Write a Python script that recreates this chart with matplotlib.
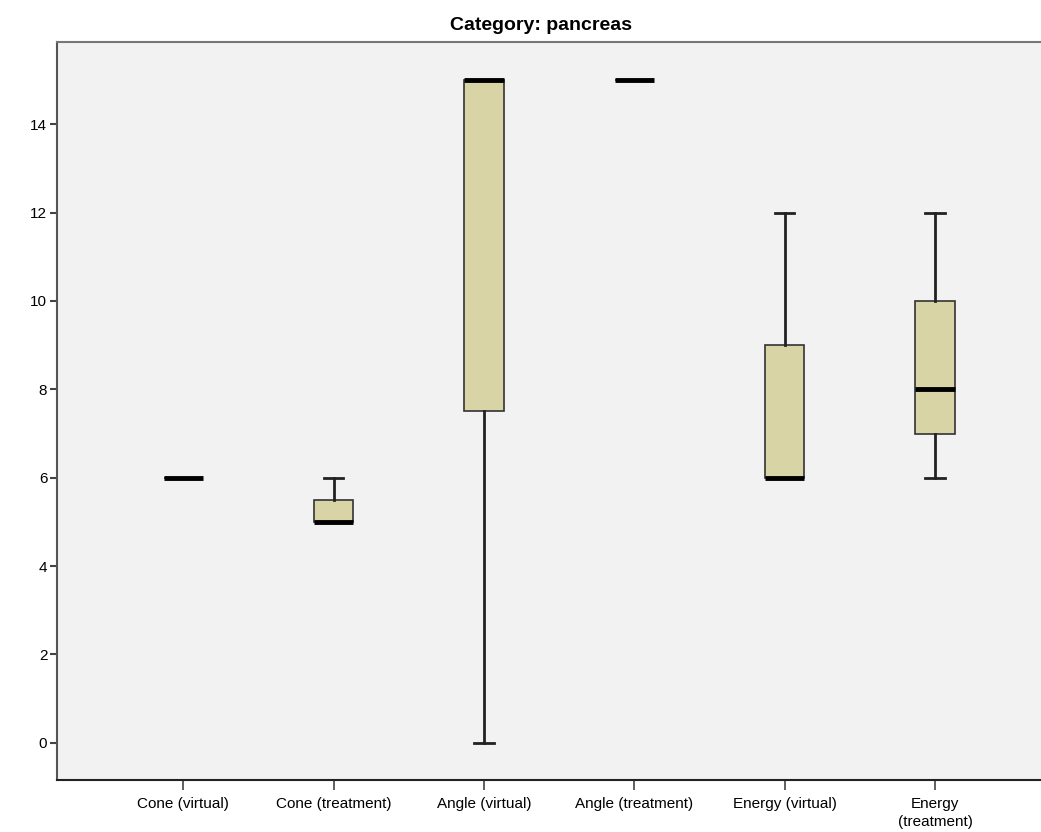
import matplotlib
matplotlib.use("Agg")
import matplotlib.pyplot as plt

# box summaries per measurement (min whisker, q1, median, q3, max whisker)
categories = ["Cone (virtual)", "Cone (treatment)", "Angle (virtual)",
              "Angle (treatment)", "Energy (virtual)", "Energy\n(treatment)"]
whis_lo = [6, 5, 0, 15, 6, 6]
q1 = [6, 5, 7.5, 15, 6, 7]
medians = [6, 5, 15, 15, 6, 8]
q3 = [6, 5.5, 15, 15, 9, 10]
whis_hi = [6, 6, 15, 15, 12, 12]
yticks = [0, 2, 4, 6, 8, 10, 12, 14]

plt.rcParams["font.family"] = ["Liberation Sans Narrow", "Liberation Sans", "DejaVu Sans"]

fig = plt.figure(figsize=(10.41, 8.32), dpi=100)
W, H = 1041, 832
ax = fig.add_axes([57 / W, 1 - 780 / H, (W - 57) / W, (780 - 42) / H])
ax.set_facecolor("#f2f2f2")

stats = []
for i, name in enumerate(categories):
    stats.append({"label": name, "whislo": whis_lo[i], "q1": q1[i], "med": medians[i],
                  "q3": q3[i], "whishi": whis_hi[i], "fliers": []})

ax.bxp(stats, positions=range(len(categories)), widths=0.26, patch_artist=True,
       showfliers=False,
       boxprops=dict(facecolor="#d8d4a6", edgecolor="#333333", linewidth=1.2),
       medianprops=dict(color="black", linewidth=3.5, solid_capstyle="butt"),
       whiskerprops=dict(color="#222222", linewidth=2),
       capprops=dict(color="#222222", linewidth=2),
       capwidths=0.13)

ax.set_xlim(-0.84, 5.705)
ax.set_ylim(-0.84, 15.86)
ax.set_yticks(yticks)
ax.set_xticks(range(len(categories)))
ax.set_xticklabels(categories, fontsize=11, linespacing=1.35)
ax.tick_params(axis="y", labelsize=11, length=5, width=1.5, color="#444444", pad=2)
ax.tick_params(axis="x", length=7, width=1.2, color="#444444", pad=5)

ax.spines["right"].set_visible(False)
ax.spines["left"].set_color("#555555")
ax.spines["left"].set_linewidth(1.5)
ax.spines["bottom"].set_color("#222222")
ax.spines["bottom"].set_linewidth(1.5)
ax.spines["top"].set_color("#777777")
ax.spines["top"].set_linewidth(1.5)

fig.text(541 / W, 1 - 25 / H, "Category: pancreas", ha="center",
         va="center", fontsize=14, fontweight="bold")

fig.savefig("out.png", dpi=100)
